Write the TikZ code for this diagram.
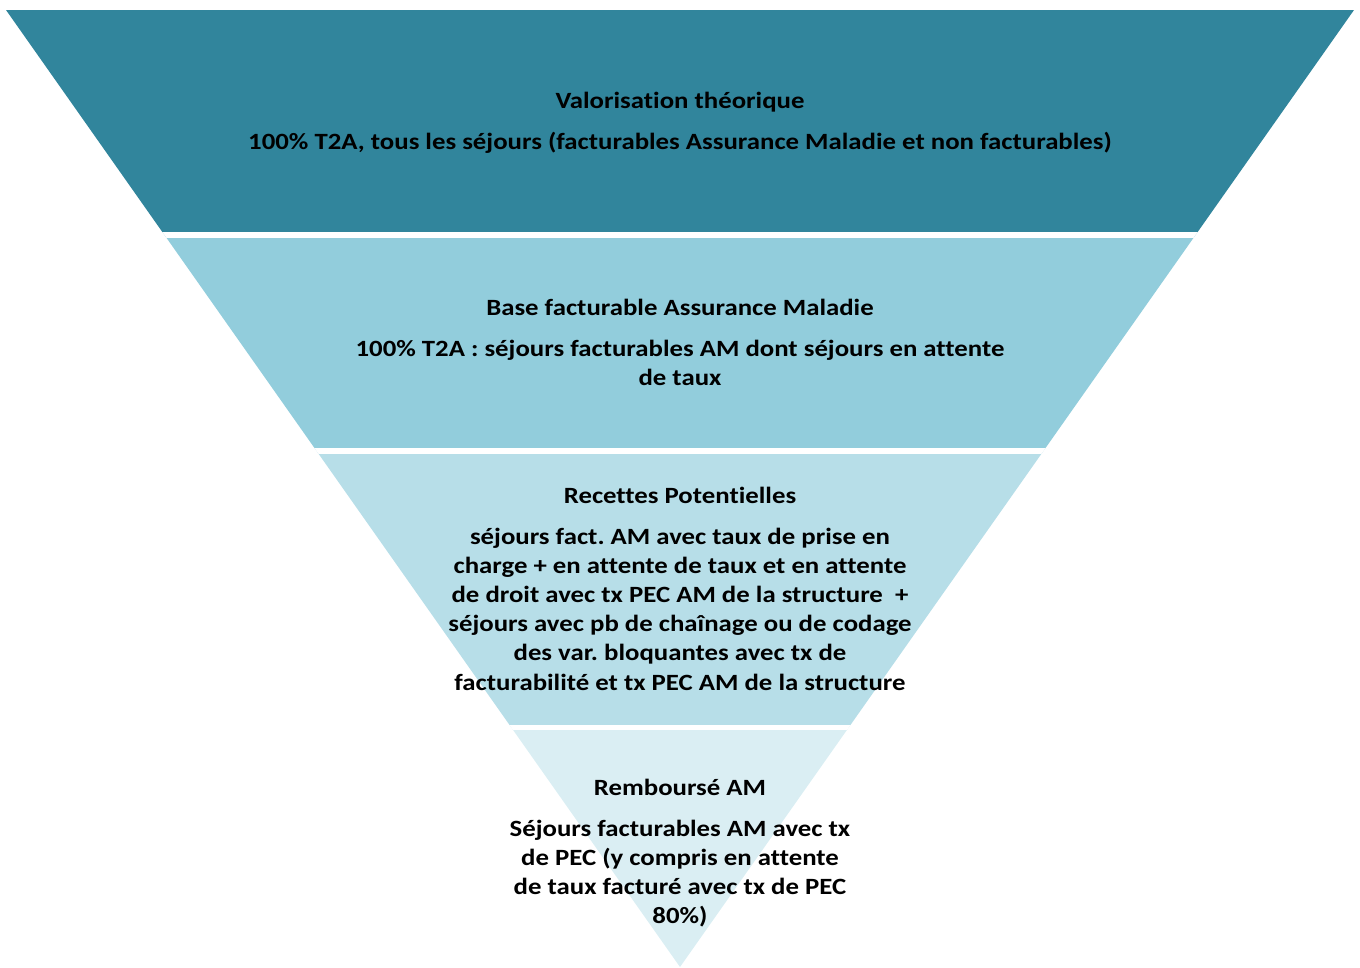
\documentclass[tikz,border=0pt]{standalone}
\usepackage{fontspec}
\setmainfont[Ligatures=NoCommon,FakeStretch=1.15]{Carlito}
\frenchspacing
\definecolor{c1}{HTML}{31859C}
\definecolor{c2}{HTML}{92CDDC}
\definecolor{c3}{HTML}{B7DEE8}
\definecolor{c4}{HTML}{DAEEF3}
\tikzset{
  txt/.style={anchor=base, inner sep=0pt, font=\frenchspacing\bfseries\fontsize{23.3}{28}\selectfont, text=black},
  gap/.style={fill=white, draw=none}
}
\begin{document}
\begin{tikzpicture}[x=1pt,y=-1pt]
\useasboundingbox (0,0) rectangle (1360,967);
% funnel
\coordinate (tl) at (6,10);
\coordinate (tr) at (1354,10);
\coordinate (ap) at (680,967);
\begin{scope}
\clip (tl) -- (tr) -- (ap) -- cycle;
\fill[c1] (0,0) rectangle (1360,232);
\fill[c2] (0,232) rectangle (1360,448);
\fill[c3] (0,448) rectangle (1360,725);
\fill[c4] (0,725) rectangle (1360,967);
\fill[gap] (0,232) rectangle (1360,237.5);
\fill[gap] (0,448) rectangle (1360,453.5);
\fill[gap] (0,725) rectangle (1360,730);
\end{scope}
% layer 1
\node[txt] (t1) at (680,108) {Valorisation théorique};
\node[txt] (b1-1) at (680,149) {100\% T2A, tous les séjours (facturables Assurance Maladie et non facturables)};
% layer 2
\node[txt] (t2) at (680,315) {Base facturable Assurance Maladie};
\foreach \t [count=\i] in {{100\% T2A : séjours facturables AM dont séjours en attente},{de taux}}
  \node[txt] (b2-\i) at (680,{356+29.2*(\i-1)}) {\t};
% layer 3
\node[txt] (t3) at (680,503) {Recettes Potentielles};
\foreach \t [count=\i] in {{séjours fact. AM avec taux de prise en},{charge + en attente de taux et en attente},{de droit avec tx PEC AM de la structure\ \ +},{séjours avec pb de chaînage ou de codage},{des var. bloquantes avec tx de},{facturabilité et tx PEC AM de la structure}}
  \node[txt] (b3-\i) at (680,{544+29.2*(\i-1)}) {\t};
% layer 4
\node[txt] (t4) at (680,795) {Remboursé AM};
\foreach \t [count=\i] in {{Séjours facturables AM avec tx},{de PEC (y compris en attente},{de taux facturé avec tx de PEC},{80\%)}}
  \node[txt] (b4-\i) at (680,{836+29.2*(\i-1)}) {\t};
\end{tikzpicture}
\end{document}
